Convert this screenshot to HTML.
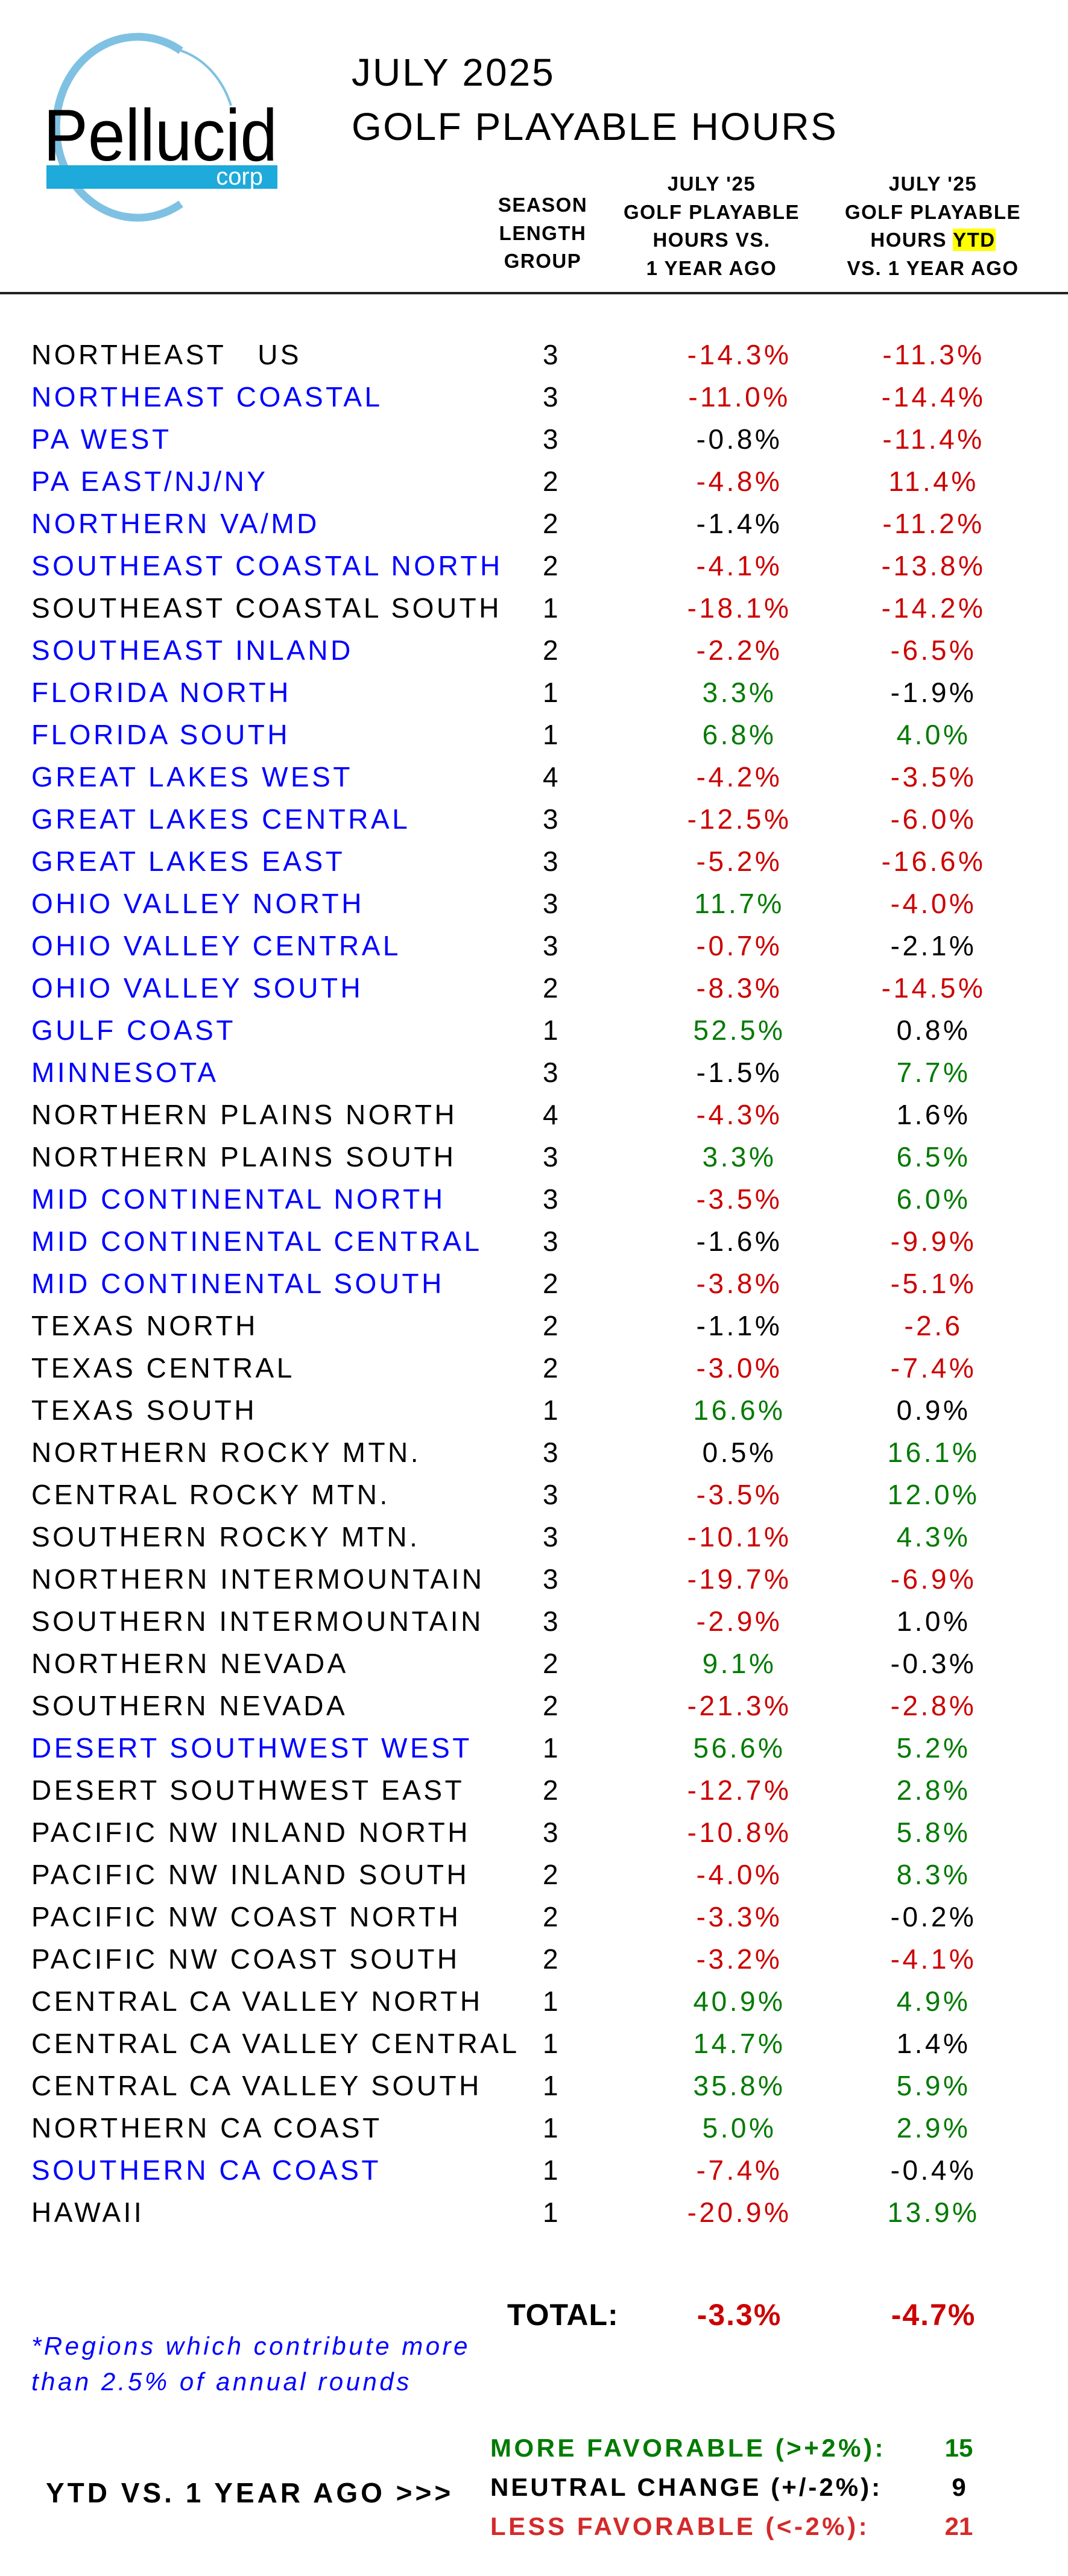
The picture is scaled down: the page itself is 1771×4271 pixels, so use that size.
<!DOCTYPE html>
<html><head><meta charset="utf-8"><style>
body{margin:0;background:#fff;}
#c{position:relative;width:1771px;height:4271px;overflow:hidden;font-family:"Liberation Sans",sans-serif;}
.a{position:absolute;white-space:nowrap;}
.r{position:absolute;left:0;width:1771px;height:70px;line-height:70px;font-size:46px;letter-spacing:4.5px;}
.r span{position:absolute;top:0;}
.n{left:52px;}
.g{left:815px;width:200px;text-align:center;}
.v1{left:1076px;width:300px;text-align:center;}
.v2{left:1398px;width:300px;text-align:center;}
.B{color:#0000ff}.R{color:#cc0000}.G{color:#007a00}.K{color:#000}
.h{position:absolute;font-weight:bold;font-size:33px;text-align:center;line-height:46.5px;width:340px;letter-spacing:1.5px;}
</style></head><body><div id="c">
<svg class="a" style="left:0;top:0" width="520" height="400">
<path d="M300,84 A135,150 0 1 0 300,338" fill="none" stroke="#7fc1e2" stroke-width="13"/>
<path d="M300,84 A125,148 0 0 1 383,175" fill="none" stroke="#7fc1e2" stroke-width="4"/>
<rect x="77" y="274" width="383" height="39" fill="#1eaadb"/>
<text x="72" y="266" font-family="Liberation Sans" font-size="122" fill="#000" textLength="388" lengthAdjust="spacingAndGlyphs">Pellucid</text>
<text x="436" y="306" font-family="Liberation Sans" font-size="40" fill="#fff" text-anchor="end">corp</text>
</svg>
<div class="a" style="left:583px;top:88px;font-size:64px;line-height:64px;letter-spacing:3px">JULY 2025</div>
<div class="a" style="left:583px;top:178px;font-size:64px;line-height:64px;letter-spacing:2.5px">GOLF PLAYABLE HOURS</div>
<div class="h" style="left:730px;top:317px;width:340px">SEASON<br>LENGTH<br>GROUP</div>
<div class="h" style="left:1010px;top:282px">JULY '25<br>GOLF PLAYABLE<br>HOURS VS.<br>1 YEAR AGO</div>
<div class="h" style="left:1377px;top:282px">JULY '25<br>GOLF PLAYABLE<br>HOURS <span style="background:#ffff00">YTD</span><br>VS. 1 YEAR AGO</div>
<div class="a" style="left:0;top:484px;width:1771px;height:4px;background:#222"></div>

<div class="a" style="left:0;top:553px;width:1771px">
<div class="r" style="top:0px"><span class="n K">NORTHEAST&nbsp;&nbsp; US</span><span class="g">3</span><span class="v1 R">-14.3%</span><span class="v2 R">-11.3%</span></div>
<div class="r" style="top:70px"><span class="n B">NORTHEAST COASTAL</span><span class="g">3</span><span class="v1 R">-11.0%</span><span class="v2 R">-14.4%</span></div>
<div class="r" style="top:140px"><span class="n B">PA WEST</span><span class="g">3</span><span class="v1 K">-0.8%</span><span class="v2 R">-11.4%</span></div>
<div class="r" style="top:210px"><span class="n B">PA EAST/NJ/NY</span><span class="g">2</span><span class="v1 R">-4.8%</span><span class="v2 R">11.4%</span></div>
<div class="r" style="top:280px"><span class="n B">NORTHERN VA/MD</span><span class="g">2</span><span class="v1 K">-1.4%</span><span class="v2 R">-11.2%</span></div>
<div class="r" style="top:350px"><span class="n B">SOUTHEAST COASTAL NORTH</span><span class="g">2</span><span class="v1 R">-4.1%</span><span class="v2 R">-13.8%</span></div>
<div class="r" style="top:420px"><span class="n K">SOUTHEAST COASTAL SOUTH</span><span class="g">1</span><span class="v1 R">-18.1%</span><span class="v2 R">-14.2%</span></div>
<div class="r" style="top:490px"><span class="n B">SOUTHEAST INLAND</span><span class="g">2</span><span class="v1 R">-2.2%</span><span class="v2 R">-6.5%</span></div>
<div class="r" style="top:560px"><span class="n B">FLORIDA NORTH</span><span class="g">1</span><span class="v1 G">3.3%</span><span class="v2 K">-1.9%</span></div>
<div class="r" style="top:630px"><span class="n B">FLORIDA SOUTH</span><span class="g">1</span><span class="v1 G">6.8%</span><span class="v2 G">4.0%</span></div>
<div class="r" style="top:700px"><span class="n B">GREAT LAKES WEST</span><span class="g">4</span><span class="v1 R">-4.2%</span><span class="v2 R">-3.5%</span></div>
<div class="r" style="top:770px"><span class="n B">GREAT LAKES CENTRAL</span><span class="g">3</span><span class="v1 R">-12.5%</span><span class="v2 R">-6.0%</span></div>
<div class="r" style="top:840px"><span class="n B">GREAT LAKES EAST</span><span class="g">3</span><span class="v1 R">-5.2%</span><span class="v2 R">-16.6%</span></div>
<div class="r" style="top:910px"><span class="n B">OHIO VALLEY NORTH</span><span class="g">3</span><span class="v1 G">11.7%</span><span class="v2 R">-4.0%</span></div>
<div class="r" style="top:980px"><span class="n B">OHIO VALLEY CENTRAL</span><span class="g">3</span><span class="v1 R">-0.7%</span><span class="v2 K">-2.1%</span></div>
<div class="r" style="top:1050px"><span class="n B">OHIO VALLEY SOUTH</span><span class="g">2</span><span class="v1 R">-8.3%</span><span class="v2 R">-14.5%</span></div>
<div class="r" style="top:1120px"><span class="n B">GULF COAST</span><span class="g">1</span><span class="v1 G">52.5%</span><span class="v2 K">0.8%</span></div>
<div class="r" style="top:1190px"><span class="n B">MINNESOTA</span><span class="g">3</span><span class="v1 K">-1.5%</span><span class="v2 G">7.7%</span></div>
<div class="r" style="top:1260px"><span class="n K">NORTHERN PLAINS NORTH</span><span class="g">4</span><span class="v1 R">-4.3%</span><span class="v2 K">1.6%</span></div>
<div class="r" style="top:1330px"><span class="n K">NORTHERN PLAINS SOUTH</span><span class="g">3</span><span class="v1 G">3.3%</span><span class="v2 G">6.5%</span></div>
<div class="r" style="top:1400px"><span class="n B">MID CONTINENTAL NORTH</span><span class="g">3</span><span class="v1 R">-3.5%</span><span class="v2 G">6.0%</span></div>
<div class="r" style="top:1470px"><span class="n B">MID CONTINENTAL CENTRAL</span><span class="g">3</span><span class="v1 K">-1.6%</span><span class="v2 R">-9.9%</span></div>
<div class="r" style="top:1540px"><span class="n B">MID CONTINENTAL SOUTH</span><span class="g">2</span><span class="v1 R">-3.8%</span><span class="v2 R">-5.1%</span></div>
<div class="r" style="top:1610px"><span class="n K">TEXAS NORTH</span><span class="g">2</span><span class="v1 K">-1.1%</span><span class="v2 R">-2.6</span></div>
<div class="r" style="top:1680px"><span class="n K">TEXAS CENTRAL</span><span class="g">2</span><span class="v1 R">-3.0%</span><span class="v2 R">-7.4%</span></div>
<div class="r" style="top:1750px"><span class="n K">TEXAS SOUTH</span><span class="g">1</span><span class="v1 G">16.6%</span><span class="v2 K">0.9%</span></div>
<div class="r" style="top:1820px"><span class="n K">NORTHERN ROCKY MTN.</span><span class="g">3</span><span class="v1 K">0.5%</span><span class="v2 G">16.1%</span></div>
<div class="r" style="top:1890px"><span class="n K">CENTRAL ROCKY MTN.</span><span class="g">3</span><span class="v1 R">-3.5%</span><span class="v2 G">12.0%</span></div>
<div class="r" style="top:1960px"><span class="n K">SOUTHERN ROCKY MTN.</span><span class="g">3</span><span class="v1 R">-10.1%</span><span class="v2 G">4.3%</span></div>
<div class="r" style="top:2030px"><span class="n K">NORTHERN INTERMOUNTAIN</span><span class="g">3</span><span class="v1 R">-19.7%</span><span class="v2 R">-6.9%</span></div>
<div class="r" style="top:2100px"><span class="n K">SOUTHERN INTERMOUNTAIN</span><span class="g">3</span><span class="v1 R">-2.9%</span><span class="v2 K">1.0%</span></div>
<div class="r" style="top:2170px"><span class="n K">NORTHERN NEVADA</span><span class="g">2</span><span class="v1 G">9.1%</span><span class="v2 K">-0.3%</span></div>
<div class="r" style="top:2240px"><span class="n K">SOUTHERN NEVADA</span><span class="g">2</span><span class="v1 R">-21.3%</span><span class="v2 R">-2.8%</span></div>
<div class="r" style="top:2310px"><span class="n B">DESERT SOUTHWEST WEST</span><span class="g">1</span><span class="v1 G">56.6%</span><span class="v2 G">5.2%</span></div>
<div class="r" style="top:2380px"><span class="n K">DESERT SOUTHWEST EAST</span><span class="g">2</span><span class="v1 R">-12.7%</span><span class="v2 G">2.8%</span></div>
<div class="r" style="top:2450px"><span class="n K">PACIFIC NW INLAND NORTH</span><span class="g">3</span><span class="v1 R">-10.8%</span><span class="v2 G">5.8%</span></div>
<div class="r" style="top:2520px"><span class="n K">PACIFIC NW INLAND SOUTH</span><span class="g">2</span><span class="v1 R">-4.0%</span><span class="v2 G">8.3%</span></div>
<div class="r" style="top:2590px"><span class="n K">PACIFIC NW COAST NORTH</span><span class="g">2</span><span class="v1 R">-3.3%</span><span class="v2 K">-0.2%</span></div>
<div class="r" style="top:2660px"><span class="n K">PACIFIC NW COAST SOUTH</span><span class="g">2</span><span class="v1 R">-3.2%</span><span class="v2 R">-4.1%</span></div>
<div class="r" style="top:2730px"><span class="n K">CENTRAL CA VALLEY NORTH</span><span class="g">1</span><span class="v1 G">40.9%</span><span class="v2 G">4.9%</span></div>
<div class="r" style="top:2800px"><span class="n K">CENTRAL CA VALLEY CENTRAL</span><span class="g">1</span><span class="v1 G">14.7%</span><span class="v2 K">1.4%</span></div>
<div class="r" style="top:2870px"><span class="n K">CENTRAL CA VALLEY SOUTH</span><span class="g">1</span><span class="v1 G">35.8%</span><span class="v2 G">5.9%</span></div>
<div class="r" style="top:2940px"><span class="n K">NORTHERN CA COAST</span><span class="g">1</span><span class="v1 G">5.0%</span><span class="v2 G">2.9%</span></div>
<div class="r" style="top:3010px"><span class="n B">SOUTHERN CA COAST</span><span class="g">1</span><span class="v1 R">-7.4%</span><span class="v2 K">-0.4%</span></div>
<div class="r" style="top:3080px"><span class="n K">HAWAII</span><span class="g">1</span><span class="v1 R">-20.9%</span><span class="v2 G">13.9%</span></div>
</div>

<div class="a" style="left:841px;top:3810px;font-size:50px;line-height:56px;font-weight:bold;letter-spacing:1px">TOTAL:</div>
<div class="a R" style="left:1076px;width:300px;text-align:center;top:3810px;font-size:50px;line-height:56px;font-weight:bold;letter-spacing:2px">-3.3%</div>
<div class="a R" style="left:1398px;width:300px;text-align:center;top:3810px;font-size:50px;line-height:56px;font-weight:bold;letter-spacing:2px">-4.7%</div>
<div class="a B" style="left:52px;top:3860px;font-size:42px;line-height:59px;font-style:italic;letter-spacing:4.5px">*Regions which contribute more<br>than 2.5% of annual rounds</div>

<div class="a G" style="left:813px;top:4034px;font-size:42px;line-height:50px;font-weight:bold;letter-spacing:4.5px">MORE FAVORABLE (&gt;+2%):</div>
<div class="a K" style="left:813px;top:4099px;font-size:42px;line-height:50px;font-weight:bold;letter-spacing:4px">NEUTRAL CHANGE (+/-2%):</div>
<div class="a" style="left:813px;top:4164px;font-size:42px;line-height:50px;font-weight:bold;color:#d42a2a;letter-spacing:4.5px">LESS FAVORABLE (&lt;-2%):</div>
<div class="a G" style="left:1530px;width:120px;text-align:center;top:4034px;font-size:42px;line-height:50px;font-weight:bold">15</div>
<div class="a K" style="left:1530px;width:120px;text-align:center;top:4099px;font-size:42px;line-height:50px;font-weight:bold">9</div>
<div class="a" style="left:1530px;width:120px;text-align:center;top:4164px;font-size:42px;line-height:50px;font-weight:bold;color:#d42a2a">21</div>
<div class="a K" style="left:76px;top:4106px;font-size:46px;line-height:54px;font-weight:bold;letter-spacing:5px">YTD VS. 1 YEAR AGO &gt;&gt;&gt;</div>
</div></body></html>
